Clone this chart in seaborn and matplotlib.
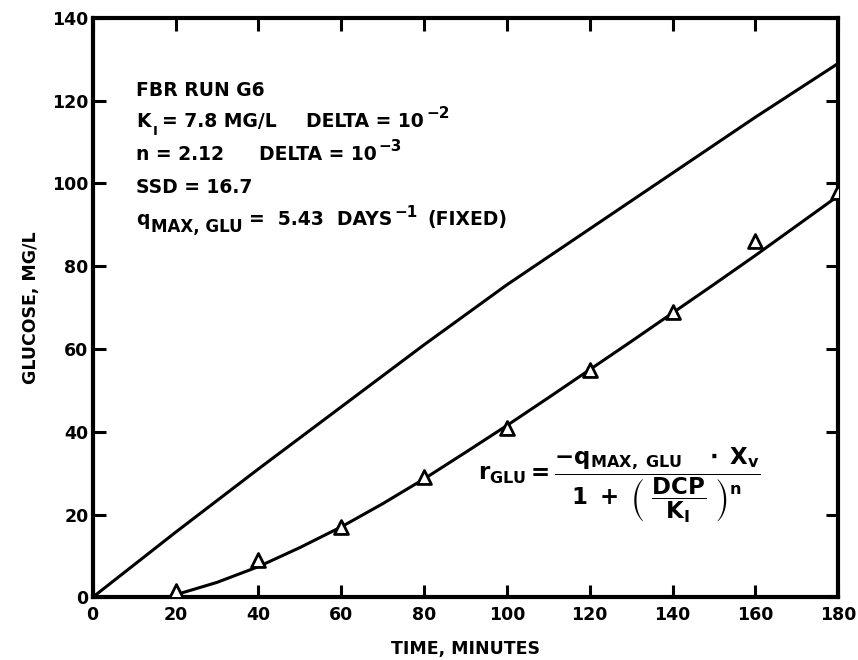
import matplotlib
matplotlib.use("Agg")
import matplotlib.pyplot as plt
import seaborn as sns
import numpy as np
import pandas as pd

# data
time_obs = [20, 40, 60, 80, 100, 120, 140, 160, 180]
glucose_obs = [1.5, 9, 17, 29, 41, 55, 69, 86, 98]

time_upper = [0, 20, 40, 60, 80, 100, 120, 140, 160, 180]
glucose_upper = [0, 15.7, 31, 46, 61, 75.5, 89, 102.5, 116, 129]

time_fit = [18, 20, 30, 40, 50, 60, 70, 80, 90, 100, 110, 120, 130, 140, 150, 160, 170, 180]
glucose_fit = [0, 0.6, 3.6, 7.4, 12, 17, 22.6, 28.6, 35, 41.5, 48.2, 55, 61.8, 68.7, 75.6, 82.6, 89.8, 97]

x_ticks = [0, 20, 40, 60, 80, 100, 120, 140, 160, 180]
y_ticks = [0, 20, 40, 60, 80, 100, 120, 140]

sns.set_theme(style="ticks")
plt.rcParams['font.family'] = ['DejaVu Sans']
plt.rcParams['mathtext.fontset'] = 'dejavusans'
plt.rcParams['mathtext.default'] = 'bf'
plt.rcParams['text.color'] = 'black'
plt.rcParams['axes.labelcolor'] = 'black'
plt.rcParams['xtick.color'] = 'black'
plt.rcParams['ytick.color'] = 'black'

fig = plt.figure(figsize=(8.58, 6.6), dpi=100)
ax = fig.add_axes([0.108, 0.095, 0.869, 0.878])

sns.lineplot(x=time_upper, y=glucose_upper, ax=ax, color='black', lw=2.2)
sns.lineplot(x=time_fit, y=glucose_fit, ax=ax, color='black', lw=2.2)
sns.scatterplot(x=time_obs, y=glucose_obs, ax=ax, marker='^', s=100,
                facecolor='white', edgecolor='black', linewidth=2, zorder=5)

ax.set_xlim(0, 180)
ax.set_ylim(0, 140)
ax.set_xticks(x_ticks)
ax.set_yticks(y_ticks)
ax.tick_params(direction='in', length=9, width=2.2, top=True, right=True,
               labelsize=12.5)
ax.tick_params(axis='x', pad=6)
ax.tick_params(axis='y', pad=3)
for lab in ax.get_xticklabels() + ax.get_yticklabels():
    lab.set_fontweight('heavy')
for s in ax.spines.values():
    s.set_visible(True)
    s.set_linewidth(3)
    s.set_color('black')

ax.set_xlabel('TIME, MINUTES', fontsize=12.5, fontweight='heavy')
ax.set_ylabel('GLUCOSE, MG/L', fontsize=12.5, fontweight='heavy')
ax.xaxis.set_label_coords(0.5, -0.073)
ax.yaxis.set_label_coords(-0.07, 0.5)


def chain(y0, parts, x0=0.058):
    prev = None
    for txt, fs, dy, gap in parts:
        if prev is None:
            prev = ax.annotate(txt, xy=(x0, y0), xycoords='axes fraction',
                               xytext=(0, dy), textcoords='offset points',
                               fontsize=fs, fontweight='heavy',
                               va='baseline', ha='left')
        else:
            prev = ax.annotate(txt, xy=(1, y0), xycoords=(prev, ax.transAxes),
                               xytext=(gap, dy), textcoords='offset points',
                               fontsize=fs, fontweight='heavy',
                               va='baseline', ha='left')


FS = 13.5
chain(0.865, [('FBR RUN G6', FS, 0, 0)])
chain(0.812, [('K', FS, 0, 0), ('I', 9.5, -6, 2), ('= 7.8 MG/L', FS, 0, 3),
              ('DELTA = 10', FS, 0, 21), ('\u22122', 11, 6, 1.5)])
chain(0.755, [('n = 2.12', FS, 0, 0), ('DELTA = 10', FS, 0, 25),
              ('\u22123', 11, 6, 1.5)])
chain(0.698, [('SSD = 16.7', FS, 0, 0)])
chain(0.642, [('q', FS, 0, 0), ('MAX, GLU', 12, -5, 1),
              ('=  5.43  DAYS', FS, 0, 5), ('\u22121', 11, 6, 1.5),
              ('(FIXED)', FS, 0, 7)])

ax.text(0.517, 0.193,
        r'$r_{GLU}=\dfrac{-q_{MAX,\ GLU}\ \ \ \cdot\ X_v}{1\ +\ \left(\ \dfrac{DCP}{K_I}\ \right)^{n}}$',
        fontsize=16.5, transform=ax.transAxes, va='center')

fig.savefig('out.png', dpi=100)
